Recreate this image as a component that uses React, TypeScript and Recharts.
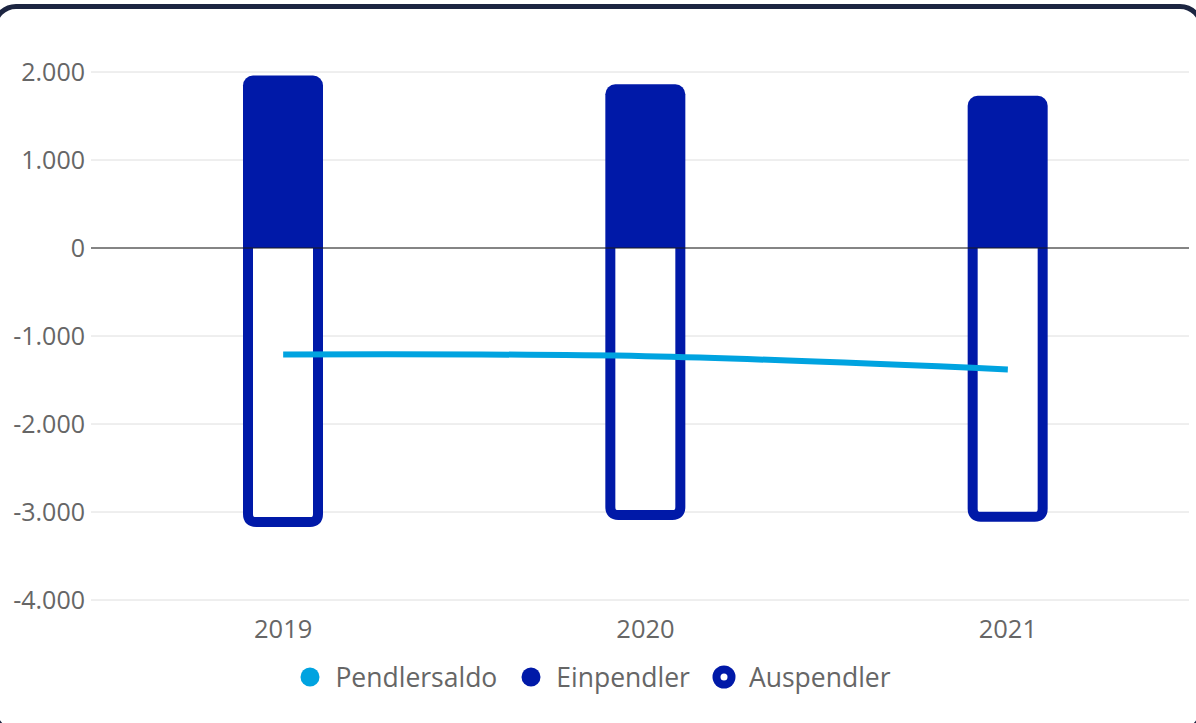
import React from 'react';
import { ComposedChart, Bar, Line, XAxis, YAxis, CartesianGrid, ReferenceLine, Legend } from 'recharts';

const years = ['2019', '2020', '2021'];
const einpendler = [1960, 1860, 1730];
const auspendler = [-3170, -3090, -3110];
const pendlersaldo = [-1210, -1230, -1380];
const yTicks = [-4000, -3000, -2000, -1000, 0, 1000, 2000];

const DARK = '#0019a8';
const LIGHT = '#00a3e0';
const TEXT = '#666666';
const FONT = '"Open Sans", "Noto Sans", sans-serif';

const chartData = years.map((year, i) => ({
  year,
  einpendler: einpendler[i],
  auspendler: auspendler[i],
  pendlersaldo: pendlersaldo[i],
}));

// German thousands separator: 2000 -> "2.000"
const fmt = (v: number) => {
  const s = Math.abs(v).toString().replace(/\B(?=(\d{3})+(?!\d))/g, '.');
  return v < 0 ? `-${s}` : s;
};

// open-top outlined bar for the negative series, stroke kept inside the bar
const OutlineBar = (props: any) => {
  const { x, y, width, height } = props;
  if (width == null || height == null) return null;
  const sw = 10;
  const r = 8;
  const top = Math.min(y, y + height);
  const bottom = Math.max(y, y + height);
  const l = x + sw / 2;
  const rt = x + width - sw / 2;
  const b = bottom - sw / 2;
  const d = `M${l},${top} L${l},${b - r} Q${l},${b} ${l + r},${b} L${rt - r},${b} Q${rt},${b} ${rt},${b - r} L${rt},${top}`;
  return <path d={d} fill="#ffffff" stroke={DARK} strokeWidth={sw} strokeLinejoin="round" />;
};

const legendItems = [
  { label: 'Pendlersaldo', kind: 'dot', color: LIGHT },
  { label: 'Einpendler', kind: 'dot', color: DARK },
  { label: 'Auspendler', kind: 'ring', color: DARK },
];

const renderLegend = () => (
  <div
    style={{
      height: 40,
      display: 'flex',
      justifyContent: 'center',
      alignItems: 'center',
      fontFamily: FONT,
      fontSize: 26.5,
      color: TEXT,
    }}
  >
    {legendItems.map((item, i) => (
      <div key={item.label} style={{ display: 'flex', alignItems: 'center', marginLeft: i === 0 ? 0 : 22 }}>
        <svg width={24} height={24} style={{ marginRight: 13 }}>
          {item.kind === 'dot' ? (
            <circle cx={12} cy={12} r={9.5} fill={item.color} />
          ) : (
            <>
              <circle cx={12} cy={12} r={11.5} fill={item.color} />
              <circle cx={12} cy={12} r={3.5} fill="#ffffff" />
            </>
          )}
        </svg>
        <span>{item.label}</span>
      </div>
    ))}
  </div>
);

export default function App() {
  return (
    <div>
      <div
        style={{
          position: 'fixed',
          left: -8,
          top: 4,
          width: 1212,
          height: 730,
          boxSizing: 'border-box',
          border: '5px solid #1c2541',
          borderRadius: 24,
          background: '#ffffff',
        }}
      />
      <div style={{ position: 'fixed', left: 0, top: 0, width: 1196, height: 723 }}>
        <ComposedChart
          width={1196}
          height={723}
          data={chartData}
          stackOffset="sign"
          margin={{ top: 72, right: 7, bottom: 26, left: 0 }}
        >
          <CartesianGrid vertical={false} stroke="#dedede" />
          <XAxis
            dataKey="year"
            axisLine={false}
            tickLine={false}
            tickSize={0}
            tickMargin={20}
            height={57}
            padding={{ left: 11, right: 0 }}
            tick={{ fill: TEXT, fontSize: 25.5, fontFamily: FONT }}
          />
          <YAxis
            width={91}
            domain={[-4000, 2000]}
            ticks={yTicks}
            interval={0}
            axisLine={false}
            tickLine={false}
            tickSize={0}
            tickMargin={6}
            tickFormatter={fmt}
            tick={{ fill: TEXT, fontSize: 25, fontFamily: FONT }}
          />
          <ReferenceLine y={0} stroke="#1a1a1a" strokeWidth={1} />
          <Bar
            dataKey="einpendler"
            stackId="p"
            fill={DARK}
            barSize={80}
            radius={[10, 10, 0, 0]}
            isAnimationActive={false}
          />
          <Bar
            dataKey="auspendler"
            stackId="p"
            barSize={80}
            shape={OutlineBar}
            isAnimationActive={false}
          />
          <Line
            dataKey="pendlersaldo"
            type="natural"
            stroke={LIGHT}
            strokeWidth={6}
            dot={false}
            activeDot={false}
            isAnimationActive={false}
          />
          <Legend verticalAlign="bottom" align="center" content={renderLegend} />
        </ComposedChart>
      </div>
    </div>
  );
}
